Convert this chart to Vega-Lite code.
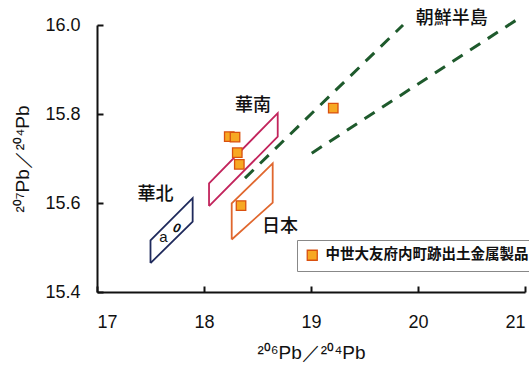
{
  "$schema": "https://vega.github.io/schema/vega-lite/v6.json",
  "autosize": "none",
  "width": 428,
  "height": 267,
  "padding": {"left": 97, "top": 25, "right": 4, "bottom": 75},
  "background": "white",
  "config": {
    "view": {"stroke": null},
    "font": "Liberation Sans",
    "axis": {
      "grid": false,
      "domainColor": "#111",
      "domainWidth": 2,
      "tickColor": "#111",
      "tickWidth": 2,
      "tickSize": -6,
      "labelFont": "Liberation Sans",
      "labelFontSize": 18,
      "labelColor": "#111",
      "titleFont": "Liberation Sans",
      "titleFontSize": 19,
      "titleFontWeight": "normal",
      "titleColor": "#111"
    }
  },
  "datasets": {
    "shapes": [
      {"g": "華北", "o": 1, "x": 17.50, "y": 15.465},
      {"g": "華北", "o": 2, "x": 17.50, "y": 15.516},
      {"g": "華北", "o": 3, "x": 17.894, "y": 15.611},
      {"g": "華北", "o": 4, "x": 17.894, "y": 15.558},
      {"g": "華北", "o": 5, "x": 17.50, "y": 15.465},
      {"g": "華南", "o": 1, "x": 18.047, "y": 15.593},
      {"g": "華南", "o": 2, "x": 18.047, "y": 15.644},
      {"g": "華南", "o": 3, "x": 18.689, "y": 15.802},
      {"g": "華南", "o": 4, "x": 18.689, "y": 15.749},
      {"g": "華南", "o": 5, "x": 18.047, "y": 15.593},
      {"g": "日本", "o": 1, "x": 18.259, "y": 15.518},
      {"g": "日本", "o": 2, "x": 18.259, "y": 15.599},
      {"g": "日本", "o": 3, "x": 18.642, "y": 15.689},
      {"g": "日本", "o": 4, "x": 18.642, "y": 15.601},
      {"g": "日本", "o": 5, "x": 18.259, "y": 15.518}
    ],
    "dash": [
      {"g": "upper", "x": 18.383, "y": 15.656},
      {"g": "upper", "x": 19.860, "y": 16.0},
      {"g": "lower", "x": 19.007, "y": 15.712},
      {"g": "lower", "x": 20.969, "y": 16.019}
    ],
    "pts": [
      {"type": "中世大友府内町跡出土金属製品", "x": 18.236, "y": 15.749},
      {"type": "中世大友府内町跡出土金属製品", "x": 18.290, "y": 15.748},
      {"type": "中世大友府内町跡出土金属製品", "x": 18.311, "y": 15.713},
      {"type": "中世大友府内町跡出土金属製品", "x": 18.330, "y": 15.687},
      {"type": "中世大友府内町跡出土金属製品", "x": 18.346, "y": 15.594},
      {"type": "中世大友府内町跡出土金属製品", "x": 19.208, "y": 15.813}
    ],
    "labels": [
      {"t": "華北", "x": 17.547, "y": 15.618},
      {"t": "華南", "x": 18.458, "y": 15.817},
      {"t": "日本", "x": 18.710, "y": 15.545},
      {"t": "朝鮮半島", "x": 20.315, "y": 16.013}
    ]
  },
  "layer": [
    {
      "data": {"name": "shapes"},
      "mark": {"type": "line", "strokeWidth": 1.8, "clip": false},
      "encoding": {
        "x": {"field": "x", "type": "quantitative", "scale": {"domain": [17, 21], "nice": false, "zero": false},
              "axis": {"values": [17, 18, 19, 20, 21], "format": "d", "labelPadding": 27, "title": "²⁰⁶Pb／²⁰⁴Pb", "titlePadding": 12}},
        "y": {"field": "y", "type": "quantitative", "scale": {"domain": [15.4, 16.0], "nice": false, "zero": false},
              "axis": {"values": [15.4, 15.6, 15.8, 16.0], "format": ".1f", "labelPadding": 23, "title": "²⁰⁷Pb／²⁰⁴Pb", "titlePadding": 12}},
        "stroke": {"field": "g", "type": "nominal", "scale": {"domain": ["華北", "華南", "日本"], "range": ["#1f2a5c", "#c2245c", "#e0672e"]}, "legend": null},
        "order": {"field": "o", "type": "quantitative"}
      }
    },
    {
      "data": {"name": "dash"},
      "mark": {"type": "line", "stroke": "#1e5a2c", "strokeWidth": 3, "strokeDash": [12, 9], "clip": false},
      "encoding": {
        "x": {"field": "x", "type": "quantitative"},
        "y": {"field": "y", "type": "quantitative"},
        "detail": {"field": "g", "type": "nominal"}
      }
    },
    {
      "data": {"name": "pts"},
      "mark": {"type": "point", "shape": "square", "filled": true, "size": 90, "stroke": "#d9500f", "strokeWidth": 1.3, "opacity": 1},
      "encoding": {
        "x": {"field": "x", "type": "quantitative"},
        "y": {"field": "y", "type": "quantitative"},
        "fill": {"field": "type", "type": "nominal", "scale": {"range": ["#f7a823"]},
                 "legend": {"title": null, "orient": "none", "legendX": 200, "legendY": 215,
                            "labelFont": "Noto Sans CJK JP", "labelFontSize": 14.5, "labelFontWeight": "bold", "labelColor": "#111",
                            "symbolType": "square", "symbolSize": 100, "symbolStrokeColor": "#d9500f", "symbolStrokeWidth": 1.3,
                            "strokeColor": "#888", "fillColor": "white", "padding": 8, "labelOffset": 6, "labelLimit": 400}}
      }
    },
    {
      "data": {"name": "labels"},
      "mark": {"type": "text", "font": "Noto Sans CJK JP", "fontSize": 18, "fontWeight": 500, "fill": "#111", "align": "center", "baseline": "middle"},
      "encoding": {
        "x": {"field": "x", "type": "quantitative"},
        "y": {"field": "y", "type": "quantitative"},
        "text": {"field": "t", "type": "nominal"}
      }
    },
    {
      "data": {"values": [{"t": "a", "x": 17.620, "y": 15.524}]},
      "mark": {"type": "text", "font": "Liberation Sans", "fontSize": 15, "fill": "#111", "align": "center", "baseline": "middle"},
      "encoding": {
        "x": {"field": "x", "type": "quantitative"},
        "y": {"field": "y", "type": "quantitative"},
        "text": {"field": "t", "type": "nominal"}
      }
    },
    {
      "data": {"values": [{"t": "0", "x": 17.745, "y": 15.543}]},
      "mark": {"type": "text", "font": "Liberation Sans", "fontSize": 13, "fontWeight": "bold", "fontStyle": "italic", "angle": 15, "fill": "#111", "align": "center", "baseline": "middle"},
      "encoding": {
        "x": {"field": "x", "type": "quantitative"},
        "y": {"field": "y", "type": "quantitative"},
        "text": {"field": "t", "type": "nominal"}
      }
    }
  ]
}
